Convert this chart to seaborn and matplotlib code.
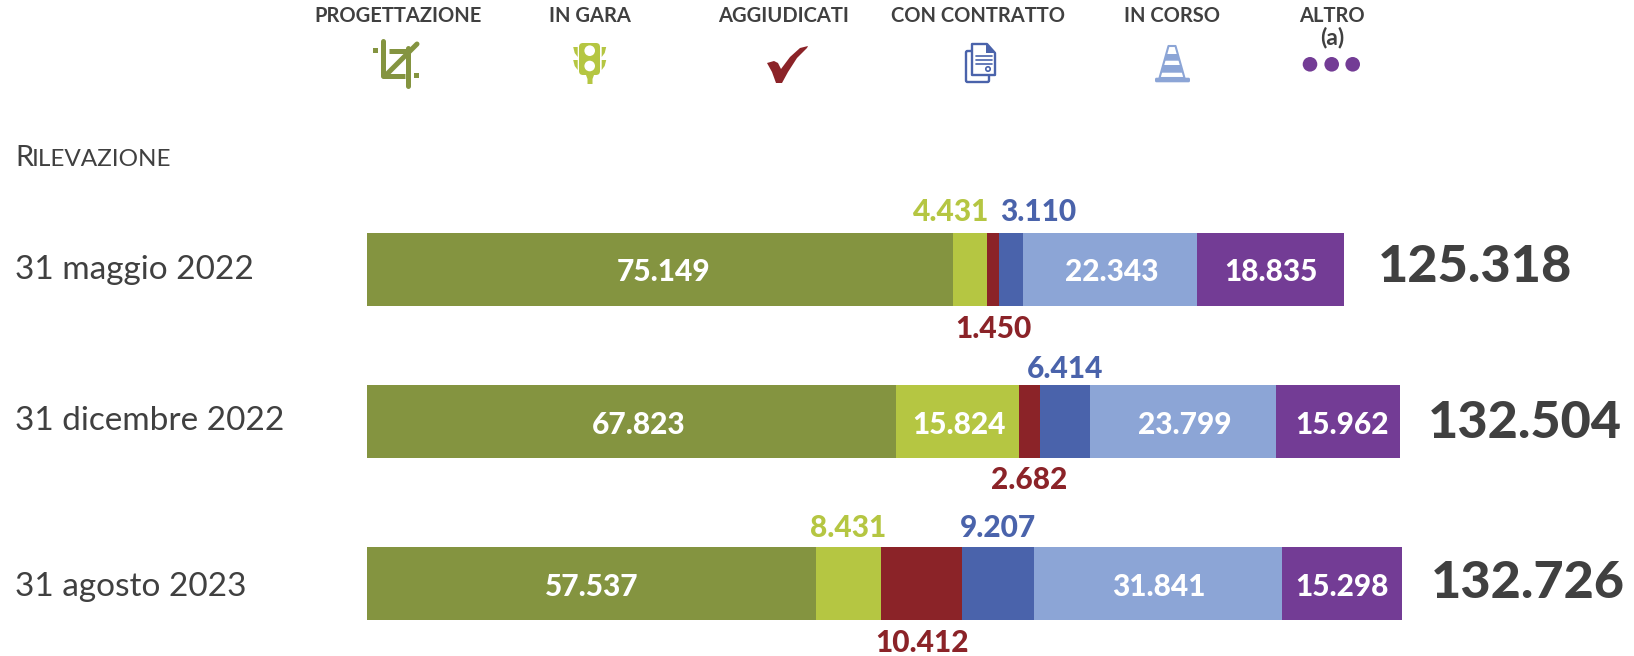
import matplotlib
matplotlib.use("Agg")
import matplotlib.pyplot as plt
from matplotlib.patches import Circle, FancyBboxPatch, Polygon, Rectangle
import numpy as np
import seaborn as sns

# data
dates = ["31 maggio 2022", "31 dicembre 2022", "31 agosto 2023"]
stati = ["PROGETTAZIONE", "IN GARA", "AGGIUDICATI", "CON CONTRATTO", "IN CORSO", "ALTRO\n(a)"]
progettazione = [75149, 67823, 57537]
in_gara = [4431, 15824, 8431]
aggiudicati = [1450, 2682, 10412]
con_contratto = [3110, 6414, 9207]
in_corso = [22343, 23799, 31841]
altro = [18835, 15962, 15298]
totali = [125318, 132504, 132726]

colors = ["#849440", "#B5C642", "#8B2328", "#4A63AB", "#8CA5D6", "#733C95"]
dark = "#404040"

# layout, in pixels of the final image
W, H = 1634, 656
row_y = [269, 421, 583.5]
bar_h = 73
x0 = 367
px_per_unit = 7.796e-3

sns.set_theme(style="white")
plt.rcParams["font.family"] = ["Lato", "DejaVu Sans"]

fig = plt.figure(figsize=(W / 100, H / 100), dpi=100)
ax = fig.add_axes([0, 0, 1, 1])
top = fig.add_axes([0, 0, 1, 1], zorder=5)
top.patch.set_alpha(0)
top.set_xlim(0, W)
top.set_ylim(H, 0)
top.axis("off")


def fmt(v):
    return f"{v:,}".replace(",", ".")


series = np.array([progettazione, in_gara, aggiudicati, con_contratto, in_corso, altro])
cum = series.cumsum(axis=0)

# stacked bars: longest first, shorter ones painted over
for i in range(5, -1, -1):
    sns.barplot(x=cum[i], y=row_y, orient="h", native_scale=True, color=colors[i],
                width=bar_h / (row_y[1] - row_y[0]), saturation=1, ax=ax, linewidth=0)

ax.set_xlim(-x0 / px_per_unit, (W - x0) / px_per_unit)
ax.set_ylim(H, 0)
ax.axis("off")

# values
inner_shift = {(0, 0): 4, (0, 1): 7, (1, 1): 2, (4, 0): 2, (4, 1): 2, (5, 1): 4}
outer_shift = {(1, 0): -19, (3, 0): 27}
outer_y = {0: (212, 329), 1: (369, 480), 2: (528, 643)}
for i in range(6):
    for r in range(3):
        v = series[i, r]
        xc = x0 + (cum[i, r] - v / 2) * px_per_unit
        if i in (0, 4, 5) or (i == 1 and r == 1):
            top.text(xc + inner_shift.get((i, r), 0), row_y[r] + 3 + (1 if r == 1 else 0), fmt(v),
                     color="white", fontsize=21.5, fontweight=900, ha="center", va="center")
        else:
            top.text(xc + outer_shift.get((i, r), 0), outer_y[r][1 if i == 2 else 0], fmt(v),
                     color=colors[i], fontsize=21.5, fontweight=900, ha="center", va="center")

# totals and dates
total_x = [1475, 1525, 1528]
total_y = [268, 424, 584]
date_y = [270, 421, 587]
for r in range(3):
    top.text(total_x[r], total_y[r], fmt(totali[r]), color=dark, fontsize=37.5,
             fontweight=900, ha="center", va="center")
    top.text(15, date_y[r], dates[r], color=dark, fontsize=24, ha="left", va="center")

top.text(15, 166, "R", color=dark, fontsize=21, ha="left", va="baseline")
top.text(32, 166, "ILEVAZIONE", color=dark, fontsize=17.5, ha="left", va="baseline")

# header labels
head_x = [398, 590, 784, 978, 1172, 1332]
for name, hx in zip(stati, head_x):
    lines = name.split("\n")
    top.text(hx, 16, lines[0], color=dark, fontsize=14.5, fontweight="bold", ha="center", va="center")
    if len(lines) > 1:
        top.text(hx, 37, lines[1], color=dark, fontsize=16.5, fontweight="bold", ha="center", va="center")

# icons
lw = 5 * 0.72
c = colors[0]
top.plot([383.5, 383.5], [41, 76], color=c, lw=lw, solid_capstyle="round")
top.plot([383.5, 405], [75.7, 75.7], color=c, lw=lw, solid_capstyle="butt")
top.plot([407.7, 407.7], [48, 86], color=c, lw=lw, solid_capstyle="round")
top.plot([389, 407], [50.7, 50.7], color=c, lw=lw, solid_capstyle="butt")
top.plot([388, 417], [73, 44], color=c, lw=lw, solid_capstyle="round")
top.add_patch(Rectangle((373, 48), 5, 5, color=c, lw=0))
top.add_patch(Rectangle((414, 73), 5, 5, color=c, lw=0))

c = colors[1]
top.add_patch(FancyBboxPatch((579, 43), 21, 32, boxstyle="round,pad=0,rounding_size=4", color=c, lw=0))
top.add_patch(Polygon([(586, 75), (594, 75), (592.5, 79), (592.5, 84), (587.5, 84), (587.5, 79)], color=c, lw=0))
for sx in (1, -1):
    for sy in (47, 60):
        top.add_patch(Polygon([(589.7 + sx * 12, sy), (589.7 + sx * 16.5, sy), (589.7 + sx * 15, sy + 6),
                               (589.7 + sx * 12, sy + 10)], color=c, lw=0))
top.add_patch(Circle((589.7, 50.7), 5.3, color="white", lw=0))
top.add_patch(Circle((589.7, 66), 5.3, color="white", lw=0))

c = colors[2]
top.add_patch(Polygon([(767, 63), (774, 61), (778, 63), (781, 69), (790, 57), (800, 48), (808, 46), (807, 48),
                       (797, 58), (788, 72), (782, 83), (776, 83), (772, 72)], color=c, lw=0))

c = colors[3]
top.add_patch(FancyBboxPatch((966, 51), 23, 31, boxstyle="round,pad=0,rounding_size=1.5", fc="white", ec=c, lw=1.7))
top.add_patch(Polygon([(972, 44), (987, 44), (995, 53), (995, 75), (972, 75)], fc="white", ec=c, lw=1.7, joinstyle="round"))
top.add_patch(Polygon([(986, 44), (995, 53), (986, 53)], color=c, lw=0))
for ly in (55.7, 60, 64.3):
    top.plot([976, 992], [ly, ly], color=c, lw=1.2)
top.add_patch(Circle((988, 69), 2.2, fc="white", ec=c, lw=1.2))

c = colors[4]
top.add_patch(FancyBboxPatch((1155, 77.7), 35, 4.6, boxstyle="round,pad=0,rounding_size=1.5", color=c, lw=0))
top.add_patch(Polygon([(1168.5, 46), (1175.5, 46), (1184.5, 78), (1159.5, 78)], fc="white", ec=c, lw=1.5, joinstyle="round"))
top.add_patch(Polygon([(1166.5, 54), (1177.5, 54), (1179.5, 60.7), (1164.5, 60.7)], color=c, lw=0))
top.add_patch(Polygon([(1163.5, 65), (1180.5, 65), (1182.5, 72.7), (1161.5, 72.7)], color=c, lw=0))

for dx in (1310, 1331.7, 1352.7):
    top.add_patch(Circle((dx, 64.3), 7.3, color=colors[5], lw=0))

fig.savefig("out.png", dpi=100)
